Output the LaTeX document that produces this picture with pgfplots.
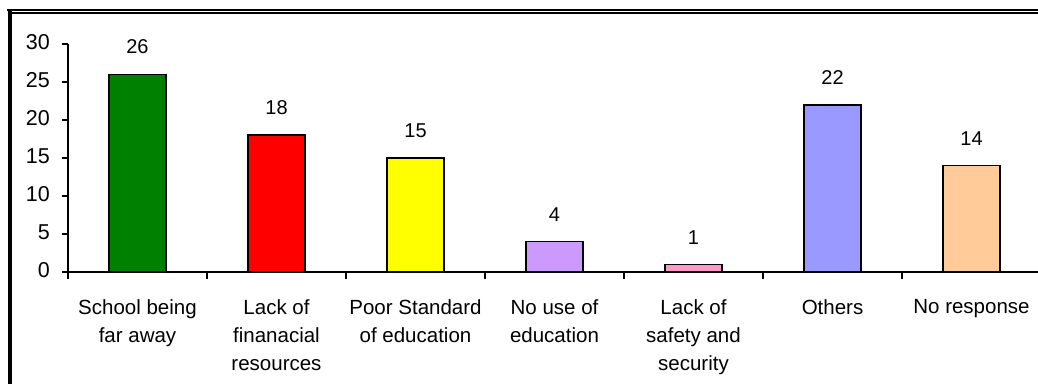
\documentclass[border=0pt]{standalone}
\usepackage{fontspec}
\setmainfont{Liberation Sans}
\usepackage{pgfplots}
\pgfplotsset{compat=1.18}
\definecolor{cA}{RGB}{0,128,0}
\definecolor{cB}{RGB}{255,0,0}
\definecolor{cC}{RGB}{255,255,0}
\definecolor{cD}{RGB}{204,153,255}
\definecolor{cE}{RGB}{255,153,204}
\definecolor{cF}{RGB}{153,153,255}
\definecolor{cG}{RGB}{255,204,153}
\begin{document}
\begin{tikzpicture}[x=1pt,y=1pt]
\path[use as bounding box] (0,0) rectangle (1038,383);
\begin{scope}
\clip (0,0) rectangle (1038,383);
\fill[white] (0,0) rectangle (1038,383);
\begin{axis}[
  at={(68pt,111pt)}, anchor=south west,
  scale only axis, width=973pt, height=228pt,
  xmin=-0.5, xmax=6.5, ymin=0, ymax=30,
  axis lines=left, axis line style={-, line width=1.5pt, black},
  ytick={0,5,...,30},
  xtick={0,...,6},
  xticklabels={School being\\far away, Lack of\\finanacial\\resources, Poor Standard\\of education, No use of\\education, Lack of\\safety and\\security, Others, No response},
  minor xtick={-0.5,0.5,...,6.5},
  tick align=outside,
  major tick length=6pt, minor tick length=7pt,
  major x tick style={draw=none},
  tick style={line width=1.5pt, black},
  xticklabel style={align=center, font=\fontsize{20.5}{28}\selectfont, anchor=north, inner sep=0pt, yshift=-21pt},
  yticklabel style={font=\fontsize{21.5}{24}\selectfont, anchor=east, inner sep=0pt, xshift=-12pt, yshift=1.5pt},
  /pgf/number format/assume math mode=true,
  ybar, bar width=57pt,
  every axis plot/.append style={bar shift=0pt, line width=1.5pt, draw=black},
  nodes near coords,
  nodes near coords style={font=\fontsize{20}{24}\selectfont, anchor=south, inner sep=0pt, yshift=19.5pt, text=black},
  clip=false,
]
\addplot[fill=cA] coordinates {(0,26)};
\addplot[fill=cB] coordinates {(1,18)};
\addplot[fill=cC] coordinates {(2,15)};
\addplot[fill=cD] coordinates {(3,4)};
\addplot[fill=cE] coordinates {(4,1)};
\addplot[fill=cF] coordinates {(5,22)};
\addplot[fill=cG] coordinates {(6,14)};
\end{axis}
\draw[line width=2.2pt] (7,373) -- (1045,373);
\draw[line width=2pt] (11,369.6) -- (1045,369.6);
\draw[line width=4pt] (9.5,374.1) -- (9.5,-10);
\end{scope}
\end{tikzpicture}
\end{document}
